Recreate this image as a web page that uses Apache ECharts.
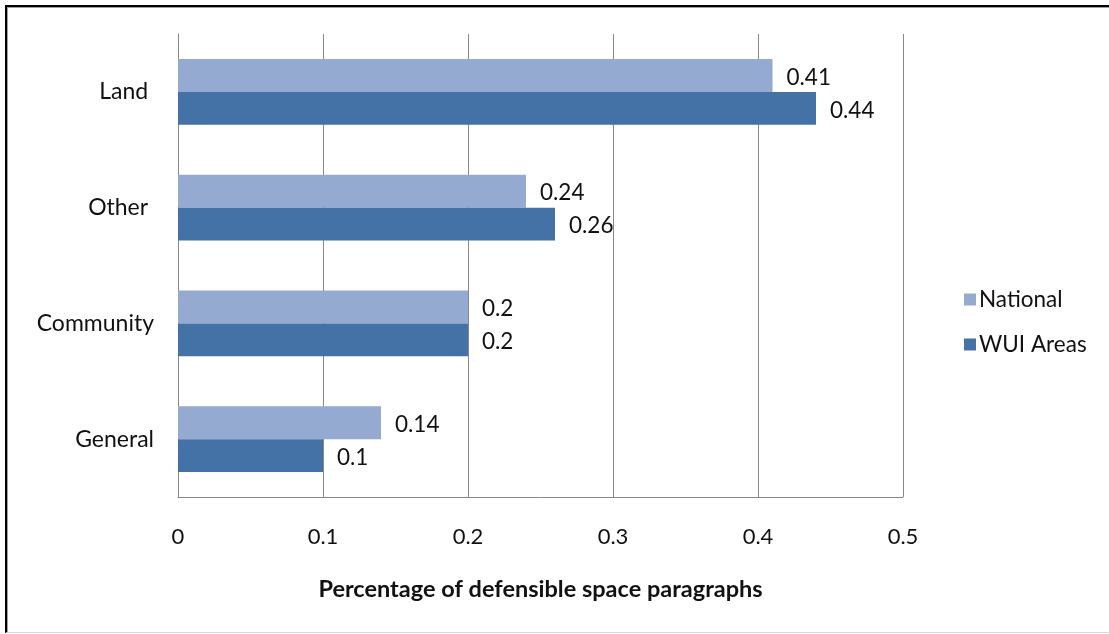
<!DOCTYPE html>
<html>
<head>
<meta charset="utf-8">
<script src="https://cdn.jsdelivr.net/npm/echarts@6/dist/echarts.min.js"></script>
<style>
  html, body { margin: 0; padding: 0; background: #fff; }
  #wrap { position: relative; width: 1109px; height: 634px; overflow: hidden; background: #fff; }
  #chart { position: absolute; left: 0; top: 0; width: 1109px; height: 634px; }
  /* frame: dark top/left edge with a soft inner line, light bottom rule */
  #frame { position: absolute; left: 5px; top: 5px; right: -10px; bottom: 1px;
           border-top: 2px solid #000; border-left: 2px solid #000;
           border-bottom: 1px solid #d9d9d9; pointer-events: none; }
  #frame::before { content: ""; position: absolute; left: 0; top: 0; right: 0; bottom: 0;
           border-top: 1px solid #a0a0a0; border-left: 1px solid #a0a0a0; }
</style>
</head>
<body>
<div id="wrap">
  <div id="chart"></div>
  <div id="frame"></div>
</div>
<script>
// Categories, listed top to bottom
const categories = ['Land ', 'Other ', 'Community', 'General'];
// Share of defensible space paragraphs per category
const nationalValues = [0.41, 0.24, 0.2, 0.14];
const wuiValues = [0.44, 0.26, 0.2, 0.1];
const seriesNames = ['National', 'WUI Areas'];
const xTicks = [0, 0.1, 0.2, 0.3, 0.4, 0.5];

const FONT = 'Lato, "Open Sans", sans-serif';
const TEXT = '#111';

const chart = echarts.init(document.getElementById('chart'), null, { renderer: 'canvas' });

const labelStyle = {
  show: true,
  position: 'right',
  distance: 14,
  offset: [0, 2],
  fontFamily: FONT,
  fontSize: 22.5,
  color: TEXT,
  formatter: p => String(p.value)
};

chart.setOption({
  animation: false,
  backgroundColor: '#fff',
  textStyle: { fontFamily: FONT },
  grid: { left: 178, right: 206, top: 34, bottom: 137, containLabel: false },
  legend: {
    orient: 'vertical',
    left: 959,
    top: 283,
    itemWidth: 12,
    itemHeight: 12,
    itemGap: 22,
    icon: 'rect',
    textStyle: { fontFamily: FONT, fontSize: 22.5, color: TEXT, padding: [0, 0, 0, -2] },
    data: seriesNames
  },
  xAxis: {
    type: 'value',
    min: xTicks[0],
    max: xTicks[xTicks.length - 1],
    interval: 0.1,
    axisLine: { show: true, lineStyle: { color: '#888', width: 1 } },
    axisTick: { show: false },
    splitLine: { show: true, lineStyle: { color: '#888', width: 1 } },
    axisLabel: {
      margin: 29,
      fontFamily: FONT,
      fontSize: 22,
      color: TEXT,
      formatter: v => String(Math.round(v * 10) / 10)
    },
    name: 'Percentage of defensible space paragraphs',
    nameLocation: 'middle',
    nameGap: 80,
    nameTextStyle: { fontFamily: FONT, fontSize: 23.5, fontWeight: 'bold', color: TEXT }
  },
  yAxis: {
    type: 'category',
    inverse: true,
    data: categories,
    axisLine: { show: true, lineStyle: { color: '#888', width: 1 } },
    axisTick: { show: false },
    splitLine: { show: false },
    axisLabel: { margin: 24, fontFamily: FONT, fontSize: 23, color: TEXT, padding: [3, 0, 0, 0] }
  },
  series: [
    {
      name: seriesNames[0],
      type: 'bar',
      data: nationalValues,
      barGap: '0%',
      barCategoryGap: '43%',
      itemStyle: { color: '#95aad1' },
      label: labelStyle
    },
    {
      name: seriesNames[1],
      type: 'bar',
      data: wuiValues,
      barGap: '0%',
      barCategoryGap: '43%',
      itemStyle: { color: '#4472a7' },
      label: labelStyle
    }
  ]
});
</script>
</body>
</html>
